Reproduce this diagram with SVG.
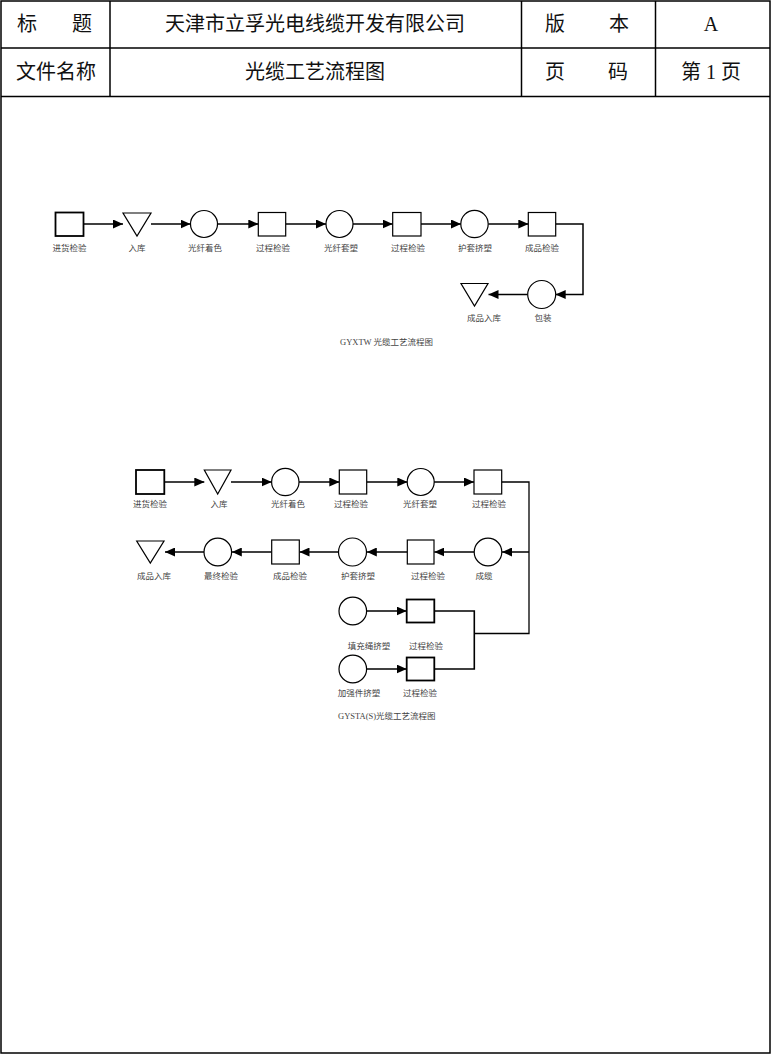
<svg xmlns="http://www.w3.org/2000/svg" width="771" height="1055" viewBox="0 0 771 1055">
<style>
.hd{font-family:"Liberation Serif","Noto Sans CJK SC",serif;font-size:20px;fill:#111}
.lb{font-family:"Liberation Serif","Noto Sans CJK SC",serif;font-size:8.5px;fill:#444;text-anchor:middle}
.cap{font-family:"Liberation Serif","Noto Sans CJK SC",serif;font-size:8.5px;fill:#444}
.sh{fill:#fff;stroke:#000;stroke-width:1.2}
.shb{fill:#fff;stroke:#000;stroke-width:1.8}
.ln{fill:none;stroke:#000;stroke-width:1.3}
.ar{fill:none;stroke:#000;stroke-width:1.5;marker-end:url(#ah)}
.grid{fill:none;stroke:#000;stroke-width:1.5}
</style>
<defs>
<marker id="ah" markerUnits="userSpaceOnUse" markerWidth="10" markerHeight="9" refX="10" refY="4.5" orient="auto">
<path d="M0,0 L10,4.5 L0,9 z" fill="#000"/>
</marker>
</defs>
<rect width="771" height="1055" fill="#fff"/>
<g id="frame">
<rect class="grid" x="1" y="1" width="769" height="1052"/>
<line class="grid" x1="1" y1="48" x2="770" y2="48"/>
<line class="grid" x1="1" y1="96.5" x2="770" y2="96.5"/>
<line class="grid" x1="110" y1="1" x2="110" y2="96.5"/>
<line class="grid" x1="521.5" y1="1" x2="521.5" y2="96.5"/>
<line class="grid" x1="655.5" y1="1" x2="655.5" y2="96.5"/>
</g>
<g id="header-text">
<text class="hd" x="17" y="31">标</text>
<text class="hd" x="72" y="31">题</text>
<text class="hd" x="315" y="31" text-anchor="middle">天津市立孚光电线缆开发有限公司</text>
<text class="hd" x="545" y="31">版</text>
<text class="hd" x="609" y="31">本</text>
<text class="hd" x="711" y="31" text-anchor="middle">A</text>
<text class="hd" x="56" y="79" text-anchor="middle">文件名称</text>
<text class="hd" x="315" y="79" text-anchor="middle">光缆工艺流程图</text>
<text class="hd" x="545" y="79">页</text>
<text class="hd" x="608" y="79">码</text>
<text class="hd" x="711" y="79" text-anchor="middle">第 1 页</text>
</g>
<g id="connectors">
<line class="ar" x1="83.5" y1="224" x2="123" y2="224"/>
<line class="ar" x1="151" y1="224" x2="190.5" y2="224"/>
<line class="ar" x1="217.5" y1="224" x2="258.3" y2="224"/>
<line class="ar" x1="285.7" y1="224" x2="326" y2="224"/>
<line class="ar" x1="353" y1="224" x2="392.7" y2="224"/>
<line class="ar" x1="421" y1="224" x2="461" y2="224"/>
<line class="ar" x1="488.3" y1="224" x2="528.3" y2="224"/>
<path class="ar" d="M555.7,224 H583 V294.5 H555.7"/>
<line class="ar" x1="527.7" y1="294.5" x2="488.5" y2="294.5"/>
<line class="ar" x1="164.5" y1="482" x2="204.3" y2="482"/>
<line class="ar" x1="231" y1="482" x2="271.7" y2="482"/>
<line class="ar" x1="299" y1="482" x2="339.3" y2="482"/>
<line class="ar" x1="366.7" y1="482" x2="407.3" y2="482"/>
<line class="ar" x1="434" y1="482" x2="474" y2="482"/>
<path class="ln" d="M501.7,482 H529 V633.5 H474.3"/>
<line class="ar" x1="529" y1="552" x2="502" y2="552"/>
<line class="ar" x1="474" y1="552" x2="434.3" y2="552"/>
<line class="ar" x1="407.3" y1="552" x2="366.8" y2="552"/>
<line class="ar" x1="338.3" y1="552" x2="299.5" y2="552"/>
<line class="ar" x1="271.7" y1="552" x2="231.8" y2="552"/>
<line class="ar" x1="204" y1="552" x2="165" y2="552"/>
<line class="ar" x1="366.7" y1="611" x2="406.7" y2="611"/>
<line class="ar" x1="366.7" y1="669" x2="406.7" y2="669"/>
<path class="ln" d="M434.3,611 H474.3 V669 H434.3" style="stroke-width:1.6"/>
</g>
<g id="d1-n1"><rect class="shb" x="55.5" y="212.5" width="28" height="23.5"/><text class="lb" x="69.5" y="251">进货检验</text></g>
<g id="d1-n2"><polygon class="sh" points="123,213 151,213 137,236"/><text class="lb" x="137" y="251">入库</text></g>
<g id="d1-n3"><circle class="sh" cx="204" cy="224" r="13.5"/><text class="lb" x="205" y="251">光纤着色</text></g>
<g id="d1-n4"><rect class="sh" x="258.3" y="212.5" width="27.4" height="23.5"/><text class="lb" x="273" y="251">过程检验</text></g>
<g id="d1-n5"><circle class="sh" cx="339.5" cy="224" r="13.5"/><text class="lb" x="341" y="251">光纤套塑</text></g>
<g id="d1-n6"><rect class="sh" x="392.7" y="212.5" width="28.3" height="23.5"/><text class="lb" x="408" y="251">过程检验</text></g>
<g id="d1-n7"><circle class="sh" cx="474.5" cy="224" r="13.7"/><text class="lb" x="475" y="251">护套挤塑</text></g>
<g id="d1-n8"><rect class="sh" x="528.3" y="212.5" width="27.4" height="23.5"/><text class="lb" x="542" y="251">成品检验</text></g>
<g id="d1-n9"><circle class="sh" cx="541.7" cy="294.5" r="14"/><text class="lb" x="543" y="321">包装</text></g>
<g id="d1-n10"><polygon class="sh" points="461,283.5 488,283.5 474.5,306"/><text class="lb" x="484" y="321">成品入库</text></g>
<text class="cap" x="340" y="345">GYXTW 光缆工艺流程图</text>
<g id="d2-n1"><rect class="shb" x="136" y="470" width="28.3" height="24"/><text class="lb" x="150" y="507">进货检验</text></g>
<g id="d2-n2"><polygon class="sh" points="204.3,470 231,470 217.7,494"/><text class="lb" x="219" y="507">入库</text></g>
<g id="d2-n3"><circle class="sh" cx="285.3" cy="482" r="13.7"/><text class="lb" x="288" y="507">光纤着色</text></g>
<g id="d2-n4"><rect class="sh" x="339.3" y="470" width="27.4" height="24"/><text class="lb" x="351" y="507">过程检验</text></g>
<g id="d2-n5"><circle class="sh" cx="420.7" cy="482" r="13.5"/><text class="lb" x="420" y="507">光纤套塑</text></g>
<g id="d2-n6"><rect class="sh" x="474" y="470" width="27.7" height="24"/><text class="lb" x="489" y="507">过程检验</text></g>
<g id="d2-n7"><circle class="sh" cx="488" cy="552" r="13.8"/><text class="lb" x="484" y="579">成缆</text></g>
<g id="d2-n8"><rect class="sh" x="407.3" y="540" width="26.7" height="24"/><text class="lb" x="428" y="579">过程检验</text></g>
<g id="d2-n9"><circle class="sh" cx="352.5" cy="552" r="14"/><text class="lb" x="358" y="579">护套挤塑</text></g>
<g id="d2-n10"><rect class="sh" x="271.7" y="540" width="27.6" height="24"/><text class="lb" x="290" y="579">成品检验</text></g>
<g id="d2-n11"><circle class="sh" cx="217.8" cy="552" r="13.8"/><text class="lb" x="221" y="579">最终检验</text></g>
<g id="d2-n12"><polygon class="sh" points="136.7,541 164,541 150.3,563"/><text class="lb" x="154" y="579">成品入库</text></g>
<g id="d2-n13"><circle class="sh" cx="352.8" cy="611" r="13.8"/><text class="lb" x="369" y="649">填充绳挤塑</text></g>
<g id="d2-n14"><rect class="shb" x="406.7" y="599.5" width="27.6" height="23"/><text class="lb" x="426" y="649">过程检验</text></g>
<g id="d2-n15"><circle class="sh" cx="352.8" cy="669" r="13.8"/><text class="lb" x="359" y="696">加强件挤塑</text></g>
<g id="d2-n16"><rect class="shb" x="406.7" y="657.5" width="27.6" height="23"/><text class="lb" x="420" y="696">过程检验</text></g>
<text class="cap" x="338" y="719">GYSTA(S)光缆工艺流程图</text>
</svg>
